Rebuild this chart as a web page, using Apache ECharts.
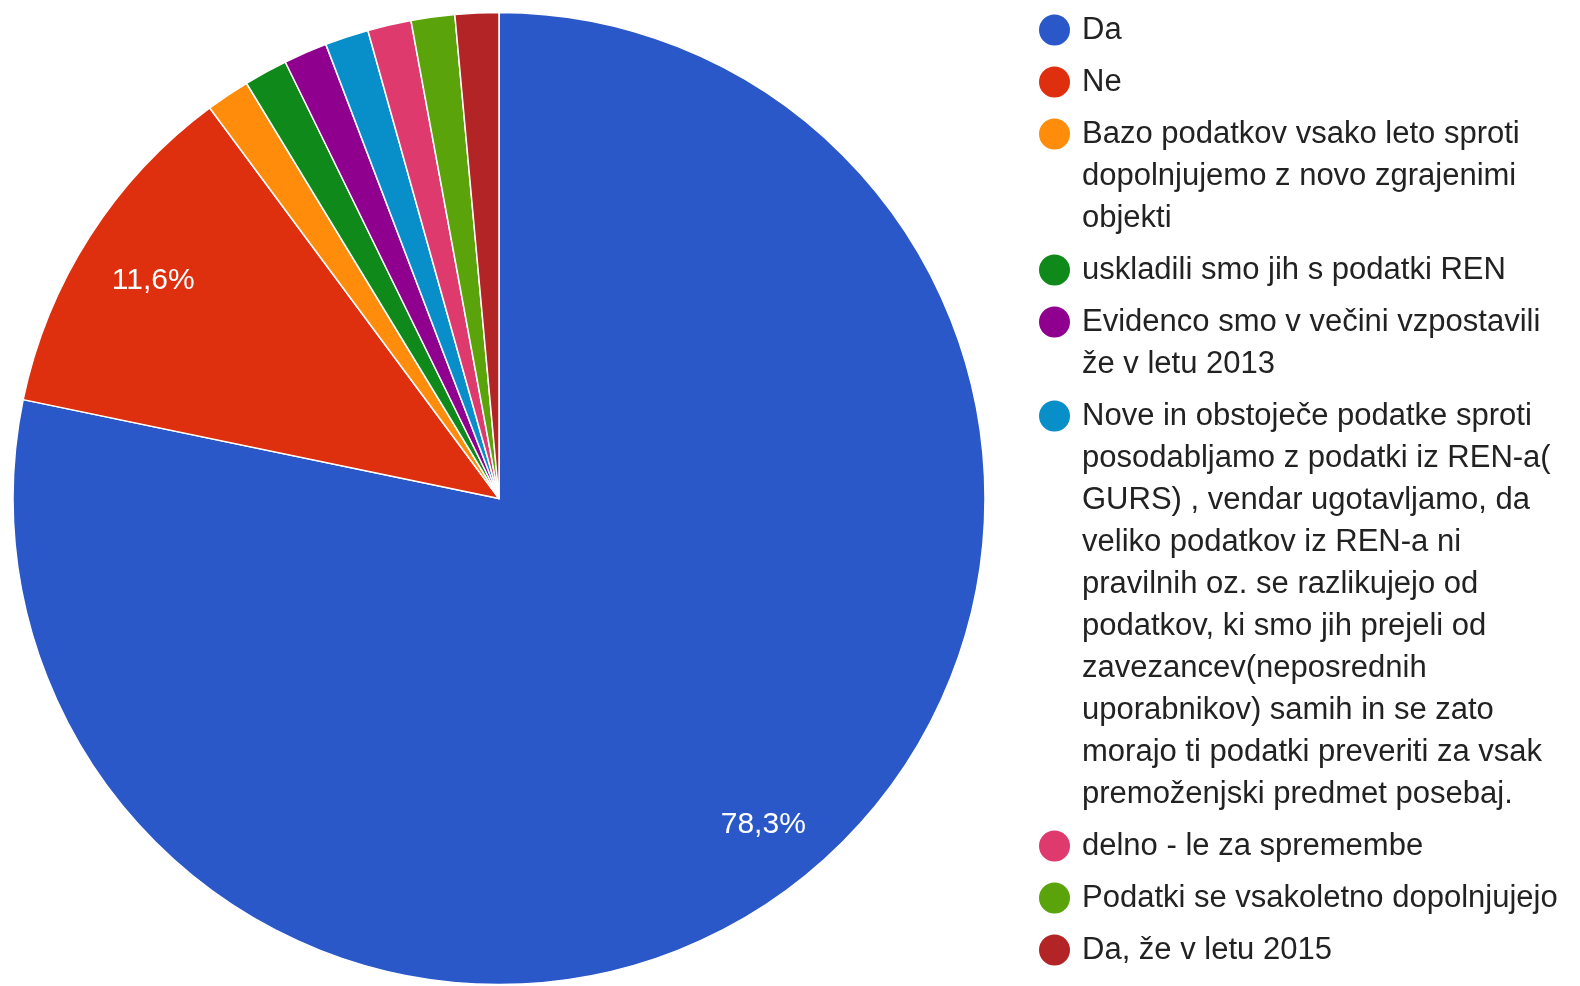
<!DOCTYPE html>
<html>
<head>
<meta charset="utf-8">
<script src="https://cdn.jsdelivr.net/npm/echarts@6/dist/echarts.min.js"></script>
<style>
  html, body { margin: 0; padding: 0; background: #fff; }
  #chart { width: 1580px; height: 986px; }
</style>
</head>
<body>
<div id="chart"></div>
<script>
// odgovori (število)
const categories = [
  'Da',
  'Ne',
  'Bazo podatkov vsako leto sproti dopolnjujemo z novo zgrajenimi objekti',
  'uskladili smo jih s podatki REN',
  'Evidenco smo v večini vzpostavili že v letu 2013',
  'Nove in obstoječe podatke sproti posodabljamo z podatki iz REN-a( GURS) , vendar ugotavljamo, da veliko podatkov iz REN-a ni pravilnih oz. se razlikujejo od podatkov, ki smo jih prejeli od zavezancev(neposrednih uporabnikov) samih in se zato morajo ti podatki preveriti za vsak premoženjski predmet posebaj.',
  'delno - le za spremembe',
  'Podatki se vsakoletno dopolnjujejo',
  'Da, že v letu 2015'
];
const counts = [54, 8, 1, 1, 1, 1, 1, 1, 1];
const colors = ['#2b58c8', '#de300e', '#ff8c0a', '#0e891a', '#8f008f', '#088ec8', '#de3a6e', '#5aa30a', '#b22426'];

// legenda - besedilo po vrsticah
const legendLines = [
  ['Da'],
  ['Ne'],
  ['Bazo podatkov vsako leto sproti', 'dopolnjujemo z novo zgrajenimi', 'objekti'],
  ['uskladili smo jih s podatki REN'],
  ['Evidenco smo v večini vzpostavili', 'že v letu 2013'],
  ['Nove in obstoječe podatke sproti', 'posodabljamo z podatki iz REN-a(', 'GURS) , vendar ugotavljamo, da',
   'veliko podatkov iz REN-a ni', 'pravilnih oz. se razlikujejo od', 'podatkov, ki smo jih prejeli od',
   'zavezancev(neposrednih', 'uporabnikov) samih in se zato', 'morajo ti podatki preveriti za vsak',
   'premoženjski predmet posebaj.'],
  ['delno - le za spremembe'],
  ['Podatki se vsakoletno dopolnjujejo'],
  ['Da, že v letu 2015']
];

const FONT = '"Liberation Sans", Arial, sans-serif';
const LINE_H = 42;
const ICON = 31;

const pieData = categories.map((name, i) => ({ name: name, value: counts[i] }));

// ena legenda na postavko, da je krogec ob prvi vrstici
let center = 30;
const legends = categories.map((name, i) => {
  const n = legendLines[i].length;
  const h = LINE_H * n - (LINE_H - ICON);
  const r = ICON / 2;
  const icon = n === 1 ? 'circle'
    : 'path://M0,' + r + 'A' + r + ',' + r + ',0,1,1,' + ICON + ',' + r + 'A' + r + ',' + r + ',0,1,1,0,' + r +
      'ZM' + r + ',' + h + 'L' + (r + 0.01) + ',' + h;
  const lg = {
    orient: 'vertical',
    left: 1039,
    top: center - 21,
    padding: 0,
    itemWidth: ICON,
    itemHeight: n === 1 ? ICON : h,
    selectedMode: false,
    itemStyle: { borderWidth: 0 },
    data: [{ name: name, icon: icon }],
    formatter: () => legendLines[i].join('\n'),
    textStyle: {
      fontFamily: FONT,
      fontSize: 31,
      lineHeight: LINE_H,
      color: '#222',
      padding: [0, 0, 0, 7]
    }
  };
  center += LINE_H * (n - 1) + 52;
  return lg;
});

const chart = echarts.init(document.getElementById('chart'), null, { renderer: 'canvas' });
chart.setOption({
  animation: false,
  color: colors,
  legend: legends,
  series: [
    {
      type: 'pie',
      center: [499, 498.5],
      radius: [0, 486],
      startAngle: 90,
      clockwise: true,
      avoidLabelOverlap: false,
      itemStyle: { borderColor: '#fff', borderWidth: 1.5 },
      label: { show: false },
      labelLine: { show: false },
      emphasis: { disabled: true },
      data: pieData
    },
    {
      // samo oznake odstotkov
      type: 'pie',
      center: [499, 498.5],
      radius: [336, 486],
      startAngle: 90,
      clockwise: true,
      silent: true,
      avoidLabelOverlap: false,
      itemStyle: { color: 'rgba(0,0,0,0)', borderWidth: 0 },
      label: {
        show: true,
        position: 'inside',
        fontFamily: FONT,
        fontSize: 30,
        color: '#fff',
        formatter: p => p.percent > 5 ? p.percent.toFixed(1).replace('.', ',') + '%' : ''
      },
      labelLayout: { dx: 3, dy: 5 },
      labelLine: { show: false },
      emphasis: { disabled: true },
      data: pieData
    }
  ]
});
</script>
</body>
</html>
